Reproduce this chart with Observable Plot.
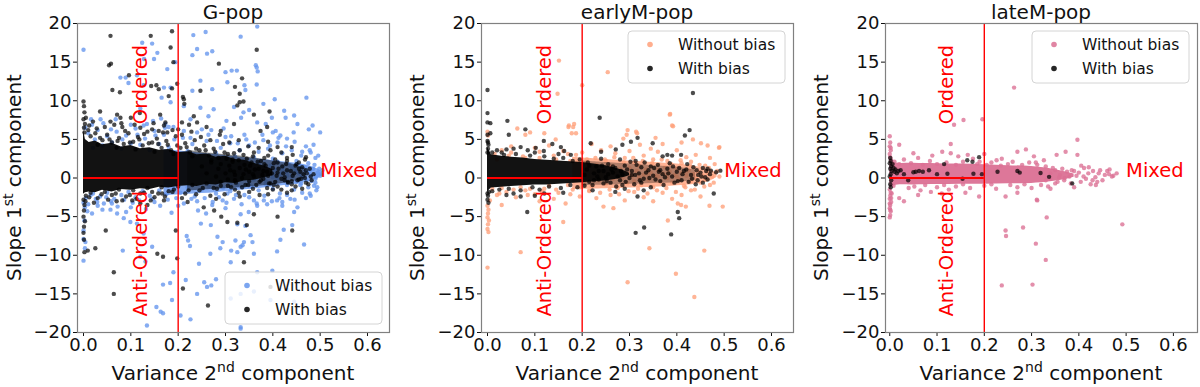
<!DOCTYPE html>
<html><head><meta charset="utf-8">
<script src="https://cdn.jsdelivr.net/npm/d3@7"></script>
<script src="https://cdn.jsdelivr.net/npm/@observablehq/plot@0.6"></script>
<style>
body{margin:0;background:#fff;}
#wrap{display:flex;width:1200px;height:387px;overflow:hidden;}
#wrap svg{display:block;font-family:"DejaVu Sans",sans-serif;}
</style></head><body><div id="wrap"></div>
<script>
// ---------- data (x = variance of 2nd component, y = slope of 1st component) ----------
const panelTitles = ["G-pop", "earlyM-pop", "lateM-pop"];
const seriesNames = ["Without bias", "With bias"];
const xTicks = [0, 0.1, 0.2, 0.3, 0.4, 0.5, 0.6];
const yTicks = [-20, -15, -10, -5, 0, 5, 10, 15, 20];
const varianceThreshold = 0.2;
const verticalLabels = [{text: "Ordered", x: 0.12, y: 12.1}, {text: "Anti-Ordered", x: 0.12, y: -9.8}];
const sideLabels = [{text: "Mixed", x: 0.5, y: 1.0}];

// G-pop, without bias
const gBlue = [
 [0.0,16.6],[0.367,19.6],[0.258,18.9],[0.232,18.5],[0.332,18.3],[0.124,17.5],[0.128,15.4],[0.145,17.4],[0.149,15.4],[0.156,16.2],[0.23,15.9],[0.261,16.1],[0.24,16.7],[0.272,16.4],[0.194,15.0],
 [0.364,14.6],[0.366,14.3],[0.368,13.8],[0.366,12.1],[0.3,13.7],[0.313,13.9],[0.324,13.9],[0.078,13.0],[0.089,13.0],[0.113,13.3],[0.177,14.1],[0.247,12.6],[0.304,12.4],[0.34,12.0],[0.342,11.4],
 [0.127,12.0],[0.17,11.7],[0.184,11.7],[0.23,11.3],[0.272,11.5],[0.471,10.4],[0.404,10.2],[0.184,9.8],[0.212,9.3],[0.247,9.1],[0.275,8.9],[0.318,9.2],[0.338,8.5],[0.35,8.8],[0.38,9.6],
 [0.427,7.8],[0.424,8.7],[0.445,8.1],[0.226,7.6],[0.264,8.0],[0.302,7.4],[0.333,7.8],[0.385,7.0],[0.367,7.2],[0.398,7.8],[0.452,7.0],[0.484,6.8],[0.476,6.3],[0.444,5.9],[0.4,5.9],
 [0.406,6.1],[0.416,5.5],[0.486,4.3],[0.036,7.6],[0.018,6.9],[0.095,12.3],[0.165,10.4],[0.5,5.9],[0.12,9.0],[0.127,6.8],[0.147,7.4],[0.164,7.7],[0.173,7.0],[0.18,6.6],
 [0.0,-7.9],[0.004,-8.3],[0.0,-10.7],[0.134,-19.1],[0.154,-16.7],[0.163,-17.3],[0.168,-17.5],[0.083,-9.4],[0.221,-8.1],[0.225,-8.8],[0.218,-7.5],[0.19,-12.2],[0.183,-13.6],[0.168,-13.8],
 [0.28,-13.1],[0.255,-13.5],[0.27,-13.9],[0.226,-18.3],[0.312,-9.4],[0.294,-8.3],[0.283,-7.6],[0.269,-6.1],[0.248,-5.9],[0.259,-4.6],[0.273,-3.1],[0.294,-2.9],[0.304,-2.0],[0.322,-2.2],[0.336,-1.2],
 [0.127,-7.2],[0.113,-5.9],[0.099,-5.7],[0.085,-5.2],[0.071,-4.6],[0.057,-4.1],[0.043,-3.3],[0.029,-3.1],[0.015,-2.2],[0.145,-8.9],[0.12,-10.2],[0.131,-10.8],
 [0.332,-19.3],[0.399,-12.0],[0.409,-9.5],[0.416,-8.0],[0.423,-6.7],[0.441,-6.1],[0.466,-8.6],[0.353,-7.4],[0.357,-8.3],[0.339,-8.3],[0.336,-8.7],[0.325,-9.6],[0.321,-8.1],[0.332,-4.7],
 [0.349,-4.4],[0.367,-3.6],[0.381,-2.9],[0.388,-3.4],[0.409,-2.9],[0.42,-3.6],[0.437,-2.7],[0.445,-4.4],[0.48,-2.3],[0.487,-1.0],[0.494,-1.2],[0.452,-3.8],[0.342,-6.2],[0.325,-6.0],
 [0.311,-15.6],[0.332,-15.0],[0.244,-11.1],[0.268,-9.8],[0.289,-9.1],[0.311,-10.9],[0.332,-8.9],[0.36,-9.8],[0.395,-15.8],[0.431,-14.5],[0.445,-16.0],[0.367,-12.2],[0.36,-14.7],
 [0.216,-13.2],[0.24,-15.0],[0.261,-14.1],[0.187,-15.8],[0.205,-17.8],[0.332,-19.5],
 [0.01,5.8],[0.03,6.2],[0.05,5.4],[0.07,6.0],[0.09,5.5],[0.11,6.4],[0.13,5.1],[0.15,6.1],[0.17,5.6],[0.19,6.6],[0.21,5.2],[0.23,4.4],[0.24,5.9],[0.26,4.8],[0.27,6.2],[0.29,3.9],
 [0.30,5.3],[0.31,4.5],[0.33,3.6],[0.34,5.6],[0.35,4.2],[0.37,3.4],[0.38,4.9],[0.39,3.8],[0.41,4.6],[0.42,3.2],[0.43,5.1],[0.44,3.6],[0.46,2.9],[0.47,4.1],[0.48,3.3],[0.49,2.6],
 [0.06,4.6],[0.12,4.3],[0.18,4.0],[0.22,3.5],[0.28,3.2],[0.32,2.8],[0.36,2.7],[0.4,2.5],[0.45,2.2],[0.02,3.9],[0.04,4.2],[0.08,3.8],[0.1,4.5],[0.14,3.6],[0.16,4.4],[0.2,3.3],
 [0.004,6.5],[0.016,7.6],[0.024,5.0],[0.042,7.1],[0.058,6.3],[0.068,7.6],[0.082,5.0],[0.1,6.9],[0.114,5.6],[0.134,7.0],[0.152,5.5],[0.172,6.5],[0.192,5.0],[0.212,6.1],[0.226,5.2],
 [0.25,6.3],[0.264,5.6],[0.282,4.8],[0.296,6.4],[0.312,5.4],[0.326,4.5],[0.344,5.0],[0.362,4.6],[0.378,5.6],[0.394,4.2],[0.412,5.2],[0.428,4.1],[0.446,4.7],[0.462,3.4],[0.478,3.6],[0.496,2.9],
 [0.005,-2.6],[0.008,-4.3],[0.02,-2.0],[0.035,-2.4],[0.05,-1.9],[0.065,-2.7],[0.08,-2.2],[0.095,-1.8],[0.11,-2.5],[0.125,-1.7],[0.14,-2.3],[0.16,-1.6],[0.175,-2.1],[0.19,-1.4],
 [0.205,-1.9],[0.22,-1.2],[0.235,-2.4],[0.25,-1.5],[0.265,-1.1],[0.28,-2.0],[0.295,-1.3],[0.31,-1.7],[0.325,-0.9],[0.34,-2.2],[0.355,-1.1],[0.37,-1.6],[0.385,-0.8],[0.4,-1.4],
 [0.415,-2.0],[0.43,-0.9],[0.445,-1.5],[0.46,-0.7],[0.475,-1.2],[0.49,-0.6],[0.03,-3.6],[0.06,-3.3],[0.1,-3.8],[0.15,-3.1],[0.2,-3.6],[0.24,-3.0],[0.3,-3.9],[0.36,-2.9],[0.42,-3.1],[0.47,-2.6],
 [0.003,-3.8],[0.01,-3.4],[0.018,-4.6],[0.026,-2.7],[0.04,-4.1],[0.048,-2.5],[0.058,-3.0],[0.072,-3.7],[0.086,-2.8],[0.09,-4.4],[0.104,-3.2],[0.118,-2.9],[0.132,-4.0],[0.146,-2.7],
 [0.162,-3.6],[0.178,-2.8],[0.186,-4.5],[0.196,-2.6],[0.212,-3.3],[0.228,-2.7],[0.242,-4.2],[0.256,-2.6],[0.272,-3.5],[0.286,-2.5],[0.302,-3.2],[0.318,-2.7],[0.334,-3.4],[0.35,-2.5],
 [0.366,-3.3],[0.382,-2.3],[0.398,-3.0],[0.414,-2.6],[0.43,-2.2],[0.446,-2.8],[0.462,-1.9],[0.478,-2.0],[0.492,-1.6],
 [0.0,-3.2],[0.002,-5.5],[0.0,-6.8],[0.003,-9.1],
 [0.25,0.4],[0.26,1.8],[0.27,-0.3],[0.28,1.1],[0.29,2.3],[0.3,0.2],[0.31,1.5],[0.32,-0.5],[0.33,0.9],[0.34,2.0],[0.35,0.4],[0.355,1.3],[0.36,-0.2],[0.365,0.9],[0.37,1.9],[0.375,0.3],
 [0.38,1.2],[0.385,-0.4],[0.39,0.7],[0.395,1.6],[0.4,0.1],[0.405,1.0],[0.41,2.1],[0.415,0.5],[0.42,1.4],[0.425,-0.2],[0.43,0.8],[0.435,1.7],[0.44,0.2],[0.445,1.1],[0.45,-0.5],[0.455,0.6],
 [0.46,1.5],[0.465,0.0],[0.47,0.9],[0.475,1.9],[0.48,0.4],[0.485,1.2],[0.49,-0.1],[0.495,0.7],[0.5,0.3],[0.505,1.0],[0.38,0.5],[0.39,1.1],[0.4,0.6],[0.41,0.0],[0.42,0.9],[0.43,0.3],
 [0.44,1.4],[0.45,0.8],[0.46,0.4],[0.37,0.6],[0.36,1.4],[0.35,-0.6],[0.34,0.7],[0.33,1.6],[0.32,0.3],[0.31,-0.8],[0.3,1.0],[0.29,0.6],[0.28,-0.6],[0.27,1.4],[0.26,0.8],
 [0.452,1.8],[0.468,1.4],[0.478,0.9],[0.488,1.7],[0.498,1.2],[0.502,0.5],[0.492,0.2],[0.482,-0.4],[0.472,-0.3],[0.458,-0.9]
];
// G-pop, without bias: dense band where dots merge (x, lower y, upper y)
const gBlueBand = [[0.17,-2.3,3.7],[0.22,-2.1,3.4],[0.28,-1.9,3.0],[0.33,-1.6,2.7],[0.38,-1.3,2.4],[0.42,-1.0,2.1],[0.46,-0.7,1.8],[0.49,-0.2,1.3],[0.505,0.3,0.8]];
// G-pop, with bias: saturated core, half-saturated zone (x, lower y, upper y) and individual points
const gBlackCore = [
 [0.0,-2.1,6.2],[0.004,-1.9,5.0],[0.012,-1.8,4.6],[0.025,-1.9,4.8],[0.04,-1.6,4.3],[0.06,-1.8,4.5],[0.08,-1.5,4.0],[0.1,-1.6,4.2],[0.12,-1.4,3.8],[0.14,-1.5,3.9],[0.16,-1.2,3.6],
 [0.18,-1.3,3.7],[0.2,-1.1,3.3],[0.22,-1.0,3.4],[0.24,-1.1,3.0],[0.26,-0.8,3.1],[0.28,-0.9,2.7],[0.3,-0.6,2.8],[0.32,-0.7,2.4],[0.34,-0.4,2.3],[0.36,-0.3,1.9],[0.38,0.0,1.6],[0.4,0.3,1.1]
];
const gBlackHaze = [[0.22,-1.7,3.6],[0.27,-1.5,3.2],[0.32,-1.3,2.9],[0.36,-1.1,2.6],[0.4,-0.9,2.2],[0.44,-0.5,1.8],[0.47,0.0,1.2]];
const gBlack = [
 [0.057,18.4],[0.142,18.4],[0.187,19.0],[0.184,16.9],[0.366,16.6],[0.054,14.6],[0.058,14.8],[0.19,15.0],[0.286,14.8],[0.096,13.3],[0.335,12.9],[0.061,11.4],[0.077,11.1],[0.143,11.9],
 [0.154,12.0],[0.159,11.5],[0.18,10.6],[0.187,11.6],[0.198,12.2],[0.212,10.2],[0.21,10.5],[0.247,11.3],[0.32,11.8],[0.33,10.9],[0.325,9.4],[0.33,9.8],[0.338,9.9],[0.36,8.2],[0.393,8.6],
 [0.374,6.1],[0.39,4.7],[0.41,4.0],[0.44,4.0],[0.47,2.7],[0.035,8.6],[0.071,8.2],[0.078,7.8],[0.057,7.3],[0.119,8.4],[0.162,8.2],[0.173,7.2],[0.145,6.3],[0.159,6.1],[0.177,5.9],
 [0.208,7.2],[0.223,6.9],[0.233,8.0],[0.1,7.8],[0.082,6.6],[0.213,9.6],[0.24,7.2],[0.26,6.6],[0.29,6.1],[0.318,7.0],[0.388,6.6],
 [0.009,-9.4],[0.047,-6.8],[0.025,-9.1],[0.064,-12.2],[0.064,-15.0],[0.156,-9.8],[0.168,-10.2],[0.198,-10.4],[0.195,-6.8],[0.21,-14.3],[0.263,-16.5],[0.254,-3.8],[0.276,-4.2],
 [0.291,-5.0],[0.304,-5.7],[0.325,-5.8],[0.345,-6.1],[0.36,-4.7],[0.41,-5.0],[0.441,-6.8],[0.339,-10.9],[0.395,-14.1],[0.145,-1.8],[0.166,-2.0],[0.191,-1.5],[0.103,-2.9],[0.135,-3.5],
 [0.01,6.2],[0.015,5.4],[0.025,5.8],[0.04,4.9],[0.05,5.6],[0.06,4.6],[0.075,5.2],[0.085,4.4],[0.095,5.8],[0.105,4.7],[0.115,5.3],[0.125,4.2],[0.135,6.0],[0.145,4.6],[0.155,5.1],
 [0.165,3.9],[0.175,4.8],[0.185,3.6],[0.195,5.4],[0.205,3.9],[0.215,4.5],[0.225,3.3],[0.235,4.9],[0.245,3.6],[0.255,4.2],[0.265,2.9],[0.275,3.8],[0.285,2.6],[0.295,4.4],[0.305,3.1],
 [0.315,2.4],[0.33,3.6],[0.345,2.5],[0.36,3.3],[0.375,2.2],[0.39,2.9],[0.41,2.0],[0.43,2.6],[0.45,1.8],[0.03,4.3],[0.07,3.9],[0.11,3.7],[0.15,3.4],[0.19,3.1],[0.23,2.8],[0.27,2.3],
 [0.2,6.3],[0.12,6.5],[0.17,6.8],[0.08,7.1],
 [0.005,7.8],[0.012,6.8],[0.02,7.3],[0.028,6.4],[0.035,5.2],[0.045,6.6],[0.055,5.0],[0.065,6.9],[0.072,4.8],[0.088,6.1],[0.098,4.6],[0.108,6.9],[0.118,5.0],[0.128,5.7],[0.138,4.5],
 [0.148,7.1],[0.158,4.4],[0.168,5.9],[0.178,4.3],[0.188,6.2],[0.198,4.2],[0.208,5.6],[0.218,4.0],[0.228,6.0],[0.238,3.8],[0.248,5.3],[0.258,3.6],[0.268,4.9],[0.278,3.4],[0.288,5.6],
 [0.298,3.3],[0.308,4.6],[0.318,3.2],[0.328,4.9],[0.338,3.0],[0.348,4.1],[0.358,2.8],[0.37,3.9],[0.382,2.6],[0.395,3.6],[0.405,2.4],[0.418,3.3],[0.43,2.2],[0.442,3.0],[0.455,2.0],[0.468,2.4],
 [0.005,-2.3],[0.015,-1.9],[0.03,-2.6],[0.045,-1.8],[0.06,-2.2],[0.075,-1.5],[0.09,-2.4],[0.105,-1.6],[0.12,-2.0],[0.135,-1.3],[0.15,-2.5],[0.165,-1.2],[0.18,-1.7],[0.2,-1.1],
 [0.215,-2.0],[0.23,-0.9],[0.245,-1.6],[0.26,-0.7],[0.275,-1.3],[0.29,-0.5],[0.305,-1.0],[0.32,-0.3],[0.335,-1.2],[0.35,-0.4],[0.365,-0.9],[0.38,-0.1],[0.395,-0.7],[0.41,-1.1],
 [0.425,-0.3],[0.44,-0.8],[0.455,-0.2],[0.47,-0.6],[0.07,-3.0],[0.12,-3.3],[0.17,-2.9],[0.22,-3.1],[0.28,-2.7],[0.33,-2.4],[0.39,-2.1],[0.43,-1.9],
 [0.004,-3.0],[0.012,-2.5],[0.022,-3.2],[0.038,-2.1],[0.052,-2.8],[0.068,-2.0],[0.082,-2.9],[0.098,-2.2],[0.112,-2.7],[0.128,-1.9],[0.142,-2.9],[0.158,-2.0],[0.172,-2.4],[0.188,-1.8],
 [0.208,-2.6],[0.222,-1.6],[0.238,-2.1],[0.252,-1.3],[0.268,-2.3],[0.282,-1.4],[0.298,-2.1],[0.312,-1.2],[0.328,-1.9],[0.342,-0.9],[0.358,-1.4],[0.372,-2.2],[0.388,-1.3],[0.402,-0.9],
 [0.418,-1.5],[0.432,-0.5],[0.448,-1.1],[0.462,-1.4],
 [0.25,1.5],[0.26,0.6],[0.27,2.0],[0.28,0.2],[0.285,1.2],[0.29,1.8],[0.3,0.6],[0.305,-0.2],[0.31,1.0],[0.315,2.1],[0.32,0.4],[0.33,1.3],[0.335,0.0],[0.34,1.7],[0.35,0.8],[0.355,2.0],
 [0.36,0.2],[0.37,1.2],[0.375,-0.3],[0.38,0.9],[0.385,1.6],[0.39,0.3],[0.4,1.3],[0.405,-0.5],[0.41,0.7],[0.42,1.5],[0.425,0.1],[0.43,1.0],[0.44,-0.4],[0.445,0.6],[0.455,1.2],[0.46,-0.1],
 [0.465,0.5],[0.47,1.0],[0.475,-0.8],[0.48,0.2],[0.29,-1.0],[0.32,-1.5],[0.35,-1.8],[0.4,-1.5],[0.44,-1.6],
 [0.302,2.5],[0.308,1.6],[0.318,0.8],[0.322,-0.6],[0.328,2.3],[0.338,0.5],[0.343,1.1],[0.348,-0.9],[0.352,1.6],[0.358,0.5],[0.362,1.1],[0.368,2.1],[0.372,-0.5],[0.378,0.4],[0.382,1.8],
 [0.388,0.8],[0.392,-0.7],[0.398,0.6],[0.402,1.9],[0.408,0.3],[0.412,1.2],[0.418,-0.1],[0.422,0.6],[0.428,1.8],[0.432,-0.6],[0.438,0.9],[0.442,0.3],[0.448,1.6],[0.452,-0.3],[0.458,0.8],
 [0.462,1.4],[0.468,0.0],[0.472,0.6],[0.478,1.2],[0.482,-0.3],[0.486,0.5],
 [0.0,9.9],[0.001,9.3],[0.002,8.5],[0.0,7.6],[0.003,7.0],[0.001,6.5],[0.002,5.9],[0.0,-2.8],[0.002,-3.5],[0.001,-4.2],[0.0,-5.0],[0.003,-5.6],[0.001,-6.3],[0.0,-7.1],[0.002,-9.6],[0.001,-8.0]
];

// earlyM-pop, without bias
const eOrange = [
 [0.151,15.2],[0.254,13.7],[0.2,12.0],[0.148,10.9],[0.183,7.0],[0.172,6.8],[0.386,8.3],[0.39,6.8],[0.296,6.2],[0.314,6.0],[0.0,-11.6],[0.07,-9.6],[0.398,-12.4],[0.296,-13.5],
 [0.342,-9.1],[0.437,-15.4],[0.458,-9.4],[0.16,-5.7],[0.497,-3.7],[0.49,4.0],[0.381,-5.5],[0.402,-3.3],[0.409,-3.5],[0.419,-3.7],
 [0.063,6.4],[0.08,5.6],[0.09,5.9],[0.12,5.8],[0.144,5.0],[0.171,6.6],[0.181,6.6],[0.178,5.8],[0.187,5.8],[0.187,3.0],[0.287,5.1],[0.294,5.6],[0.316,5.8],[0.322,4.3],[0.41,4.6],
 [0.434,5.0],[0.451,4.5],[0.465,4.2],[0.489,3.9],[0.385,8.2],[0.392,6.7],[0.355,5.2],[0.37,4.4],[0.345,3.8],[0.26,4.1],[0.24,3.6],[0.22,4.4],[0.27,3.2],[0.3,3.5],[0.33,2.9],
 [0.36,3.4],[0.4,3.6],[0.42,2.7],[0.44,3.0],[0.47,2.6],[0.03,3.6],[0.05,4.1],[0.1,3.9],[0.13,4.2],[0.16,3.5],[0.2,3.3],[0.21,2.4],[0.25,2.2],[0.29,2.6],[0.31,2.0],[0.35,2.4],
 [0.38,2.2],[0.41,1.9],[0.43,2.1],[0.46,1.6],[0.48,1.8],
 [0.2,0.8],[0.205,-0.6],[0.21,1.4],[0.215,0.2],[0.22,-1.1],[0.225,0.9],[0.23,1.7],[0.235,-0.3],[0.24,0.5],[0.245,1.2],[0.25,-0.8],[0.255,0.3],[0.26,1.5],[0.265,-0.1],[0.27,0.7],
 [0.275,-1.3],[0.28,1.1],[0.285,0.0],[0.29,0.6],[0.295,-0.7],[0.3,1.3],[0.305,0.2],[0.31,-0.4],[0.315,0.9],[0.32,1.6],[0.325,-0.9],[0.33,0.4],[0.335,1.1],[0.34,-0.2],[0.345,0.7],
 [0.35,-1.2],[0.355,0.3],[0.36,1.0],[0.365,-0.5],[0.37,0.6],[0.375,1.4],[0.38,0.0],[0.385,0.8],[0.39,-0.6],[0.395,0.4],[0.4,1.2],[0.405,-0.2],[0.41,0.6],[0.415,-1.0],[0.42,0.3],
 [0.425,1.0],[0.43,-0.4],[0.435,0.5],[0.44,0.0],[0.445,0.8],[0.45,-0.6],[0.455,0.3],[0.46,-0.2],[0.465,0.6],[0.47,-0.9],[0.475,0.2],[0.42,0.7],[0.4,0.2],[0.38,0.5],[0.36,0.2],
 [0.34,0.4],[0.32,0.1],[0.3,0.5],[0.28,0.3],[0.26,0.6],[0.24,0.1],
 [0.205,2.0],[0.215,-1.6],[0.228,2.6],[0.238,-1.9],[0.248,2.4],[0.258,-1.5],[0.268,2.7],[0.278,-2.1],[0.288,2.0],[0.298,-1.7],[0.308,2.6],[0.318,-1.4],[0.328,2.2],[0.338,-2.0],
 [0.348,1.9],[0.358,-1.6],[0.368,2.4],[0.378,-1.3],[0.388,1.8],[0.398,-1.8],[0.408,2.3],[0.418,-1.2],[0.428,1.6],[0.438,-1.5],[0.448,1.7],[0.458,-1.1],[0.468,1.3],[0.478,-0.6],
 [0.485,0.9],[0.49,0.2],[0.02,2.4],[0.05,3.3],[0.08,2.6],[0.11,3.4],[0.14,2.9],[0.17,3.1],[0.19,2.1],[0.025,-2.0],[0.055,-1.5],[0.085,-2.2],[0.115,-1.7],[0.145,-1.5],[0.175,-2.1],[0.195,-1.2],
 [0.005,-2.9],[0.02,-2.2],[0.04,-1.8],[0.06,-2.5],[0.08,-1.6],[0.1,-2.1],[0.12,-1.4],[0.14,-2.7],[0.165,-3.3],[0.18,-1.5],[0.195,-2.4],[0.215,-1.7],[0.245,-3.7],[0.266,-3.9],
 [0.23,-2.6],[0.26,-2.2],[0.29,-2.9],[0.31,-1.8],[0.33,-2.5],[0.35,-3.0],[0.37,-1.9],[0.39,-2.7],[0.41,-2.2],[0.43,-1.6],[0.45,-2.4],[0.469,-3.6],[0.03,-3.5],[0.11,-3.0],[0.15,-1.9],
 [0.01,-1.4],[0.03,-1.3],[0.07,-1.2],[0.09,-1.4],[0.13,-1.0],[0.17,-0.9],[0.015,3.1],[0.045,2.9],[0.075,2.8],[0.11,2.6],[0.145,2.4],[0.175,2.2],
 [0.0,-3.6],[0.002,-4.1],[0.001,-4.6],[0.0,-5.1],[0.003,-5.5],[0.001,-6.0],[0.0,-6.6],[0.002,-7.0],[0.001,5.5],[0.0,6.0]
];
// earlyM-pop, without bias: dense band where dots merge
const eOrangeBand = [[0.18,-1.5,2.7],[0.25,-1.4,2.4],[0.3,-1.3,2.2],[0.35,-1.2,2.0],[0.4,-1.0,1.8],[0.44,-0.8,1.5],[0.47,-0.4,1.1],[0.485,0.1,0.6]];
// earlyM-pop, with bias: saturated core, half-saturated zone and points
const eBlackCore = [[0.0,-1.8,4.0],[0.008,-1.3,3.0],[0.03,-1.2,2.8],[0.05,-1.1,2.7],[0.075,-1.0,2.6],[0.1,-0.9,2.4],[0.125,-0.9,2.3],[0.15,-0.8,2.2],[0.175,-0.7,2.1],[0.2,-0.6,2.0],[0.225,-0.5,1.8],[0.25,-0.4,1.6],[0.27,-0.2,1.3],[0.29,0.1,0.9],[0.3,0.3,0.6]];
const eBlackHaze = [[0.2,-1.0,2.2],[0.25,-0.9,2.0],[0.3,-0.8,1.8],[0.35,-0.7,1.6],[0.4,-0.6,1.4],[0.44,-0.3,1.0]];
const eBlack = [
 [0.0,11.4],[0.0,8.4],[0.0,7.2],[0.006,7.1],[0.042,7.4],[0.0,5.6],[0.006,5.8],[0.045,5.6],[0.08,6.3],[0.119,4.8],[0.137,4.4],[0.155,4.0],[0.162,3.5],[0.119,3.5],[0.102,3.9],
 [0.085,3.6],[0.07,4.0],[0.055,3.8],[0.04,3.7],[0.03,3.3],[0.176,3.0],[0.218,4.5],[0.24,3.4],[0.237,7.8],[0.271,3.7],[0.285,4.3],[0.303,4.7],[0.313,2.2],[0.222,-1.6],[0.27,-1.8],
 [0.07,-2.4],[0.055,-2.0],[0.04,-2.2],[0.084,-4.4],[0.313,-7.1],[0.331,-6.4],[0.434,11.0],[0.417,5.5],[0.427,6.2],[0.317,5.2],[0.349,4.5],[0.409,3.0],[0.37,2.8],[0.38,3.0],
 [0.39,2.9],[0.472,0.95],[0.483,0.75],[0.492,0.95],[0.465,-0.2],[0.478,-2.0],[0.402,-4.4],[0.405,-5.2],[0.388,-7.3],[0.317,-2.4],[0.345,-1.2],[0.444,-0.3],
 [0.205,0.4],[0.21,1.1],[0.215,-0.5],[0.225,0.6],[0.23,1.5],[0.235,-0.2],[0.245,0.9],[0.25,0.1],[0.255,1.8],[0.26,-0.6],[0.265,0.7],[0.27,1.3],[0.28,-0.3],[0.285,0.5],[0.29,1.6],
 [0.3,0.0],[0.305,0.9],[0.31,-0.8],[0.32,0.6],[0.325,1.4],[0.33,-0.1],[0.34,1.0],[0.35,0.3],[0.36,1.7],[0.365,-0.4],[0.37,0.5],[0.38,1.2],[0.39,0.2],[0.4,0.8],[0.41,-0.3],[0.42,1.1],
 [0.43,0.4],[0.44,-0.8],[0.45,0.7],[0.455,1.3],[0.46,0.1],
 [0.212,2.0],[0.222,-0.9],[0.232,0.2],[0.242,1.6],[0.252,-0.4],[0.262,1.1],[0.272,-1.1],[0.282,0.9],[0.292,-0.5],[0.302,2.1],[0.312,0.4],[0.322,-0.3],[0.332,2.0],[0.342,0.0],
 [0.352,1.3],[0.362,0.8],[0.372,-0.9],[0.382,0.6],[0.392,1.5],[0.402,-0.4],[0.412,0.5],[0.422,1.8],[0.432,-0.1],[0.442,1.0],[0.452,0.2],[0.462,0.9],[0.205,-1.0],[0.24,2.5],[0.28,2.4],
 [0.33,-1.6],[0.29,-1.4],
 [0.215,1.6],[0.225,-0.3],[0.235,0.9],[0.245,-0.7],[0.255,0.5],[0.265,1.5],[0.275,0.2],[0.285,-0.9],[0.295,1.1],[0.305,0.4],[0.315,1.7],[0.325,-0.6],[0.335,0.7],[0.345,1.5],
 [0.355,-0.2],[0.365,1.0],[0.375,0.1],[0.385,1.9],[0.395,-0.6],[0.405,1.3],[0.415,0.9],[0.425,-0.5],[0.435,1.4],[0.445,0.4],[0.455,-0.6],[0.465,1.2],[0.47,0.5],
 [0.01,3.3],[0.02,3.6],[0.035,3.0],[0.06,3.1],[0.09,2.9],[0.12,2.8],[0.14,2.5],[0.16,2.6],[0.18,2.2],[0.195,2.4],[0.1,3.3],[0.15,3.1],
 [0.01,-1.7],[0.025,-1.5],[0.045,-1.4],[0.07,-1.6],[0.095,-1.2],[0.11,-1.5],[0.13,-1.1],[0.155,-1.3],[0.175,-0.9],[0.19,-1.2],[0.12,-2.0],[0.16,-1.9],[0.1,-2.3],
 [0.0,4.8],[0.002,4.3],[0.001,3.8],[0.0,3.3],[0.003,-1.8],[0.001,-2.3],[0.0,-2.8],[0.002,-3.2],[0.001,4.6],[0.0,-2.0]
];

// lateM-pop, without bias: dense band (x, lower y, upper y) and individual points
const lPinkCore = [[0.0,-1.5,2.6],[0.01,-1.0,2.0],[0.05,-0.9,1.9],[0.1,-0.85,1.85],[0.15,-0.8,1.8],[0.2,-0.8,1.7],[0.25,-0.75,1.6],[0.3,-0.7,1.5],[0.34,-0.5,1.2],[0.37,-0.2,0.8],[0.39,0.1,0.5]];
const lPink = [
 [0.263,11.7],[0.196,7.6],[0.156,7.5],[0.136,6.9],[0.397,4.95],[0.288,3.7],[0.492,-6.0],[0.332,-5.1],[0.282,-6.4],[0.245,-6.8],[0.246,-7.5],[0.309,-8.5],[0.33,-10.6],[0.237,-13.9],
 [0.302,-13.8],[0.311,-2.8],
 [0.0,5.4],[0.001,4.6],[0.0,4.1],[0.002,3.6],[0.0,3.1],[0.001,2.7],[0.003,2.3],[0.0,-1.5],[0.002,-1.9],[0.001,-2.3],[0.0,-2.7],[0.003,-3.1],[0.001,-3.5],[0.0,-3.9],[0.002,-4.3],
 [0.001,-4.8],[0.0,-5.1],[0.004,-2.0],[0.004,2.0],[0.002,3.9],[0.001,-4.1],[0.003,-2.6],[0.0,-3.3],
 [0.01,2.1],[0.02,1.8],[0.03,2.4],[0.045,1.9],[0.06,2.6],[0.07,1.7],[0.085,2.2],[0.1,1.8],[0.111,3.4],[0.12,2.0],[0.129,3.2],[0.14,1.7],[0.145,2.8],[0.155,2.1],[0.165,3.0],
 [0.176,2.5],[0.185,1.8],[0.19,2.1],[0.205,1.7],[0.215,2.0],[0.226,2.3],[0.237,2.5],[0.25,1.8],[0.26,2.1],[0.27,3.4],[0.28,1.7],[0.295,2.0],[0.305,2.8],[0.312,1.7],[0.326,2.3],
 [0.309,2.0],[0.33,1.5],[0.353,3.0],[0.372,3.4],[0.397,3.0],[0.02,4.3],[0.129,4.4],[0.05,3.2],[0.09,2.9],[0.2,3.1],[0.235,1.6],
 [0.008,-1.0],[0.02,-2.6],[0.03,-3.0],[0.04,-1.3],[0.052,-1.1],[0.065,-1.6],[0.075,-0.9],[0.087,-1.8],[0.1,-1.2],[0.115,-0.9],[0.125,-1.5],[0.14,-1.1],[0.155,-0.8],[0.17,-1.3],
 [0.189,-2.4],[0.2,-1.0],[0.215,-0.8],[0.225,-1.4],[0.245,-2.4],[0.255,-0.9],[0.27,-1.2],[0.285,-0.8],[0.3,-1.3],[0.312,-2.9],[0.32,-0.9],[0.335,-1.1],[0.34,-1.4],[0.35,-0.7],
 [0.06,-2.2],[0.11,-2.0],[0.16,-1.9],[0.27,-1.9],
 [0.411,1.3],[0.421,1.4],[0.442,0.6],[0.464,0.5],[0.473,0.3],[0.415,-0.1],[0.429,-0.3],[0.439,-0.5],[0.45,-0.3],[0.425,-0.8],[0.436,-0.9],[0.404,-0.5],[0.39,-1.2],[0.383,-0.7],
 [0.369,-0.3],[0.358,0.1],[0.34,-0.1],[0.33,-0.3],[0.34,0.6],[0.35,1.0],[0.36,0.4],[0.365,1.2],[0.375,0.8],[0.38,0.2],[0.39,0.9],[0.395,0.3],[0.4,0.7],[0.405,1.6],[0.41,0.2],
 [0.42,0.6],[0.43,0.9],[0.435,0.1],[0.445,1.0],[0.455,0.4],[0.46,0.9],[0.47,0.2],[0.48,0.6],[0.465,1.1],[0.345,1.3],[0.355,-0.5],[0.37,0.0],[0.385,1.0]
];
// lateM-pop, with bias
const lBlack = [
 [0.001,2.6],[0.002,2.2],[0.0,1.9],[0.003,1.5],[0.001,1.2],[0.004,0.9],[0.002,0.5],[0.0,0.2],[0.003,-0.3],[0.001,-0.8],[0.002,-1.2],[0.006,1.8],[0.008,1.3],[0.01,0.8],[0.012,1.1],
 [0.015,0.6],[0.018,0.9],[0.023,1.0],[0.03,0.5],[0.039,-0.3],[0.05,0.75],[0.055,0.8],[0.062,0.9],[0.07,0.8],[0.083,1.0],[0.1,0.5],[0.115,1.8],[0.122,0.55],[0.154,-0.1],
 [0.164,2.3],[0.175,2.1],[0.189,2.7],[0.177,0.55],[0.195,0.5],[0.228,0.8],[0.27,0.9],[0.275,0.7],[0.319,0.65],[0.337,0.15],[0.386,-0.7]
];

// ---------- drawing ----------
const panels = [
  {title: panelTitles[0], free: gBlue, bias: gBlack, freeBand: gBlueBand, freeCore: null, biasHaze: gBlackHaze, hazeOpacity: 0.45, biasCore: gBlackCore, color: "#6495ed", ml: 77, mr: 11, xd: [-0.0127, 0.6465], ylab: 21, legend: {x: 225, y: 272}},
  {title: panelTitles[1], free: eOrange, bias: eBlack, freeBand: eOrangeBand, freeCore: null, biasHaze: eBlackHaze, hazeOpacity: 0.3, biasCore: eBlackCore, color: "#ffa07a", ml: 81, mr: 7, xd: [-0.0127, 0.6465], ylab: 24, legend: {x: 228, y: 31}},
  {title: panelTitles[2], free: lPink, bias: lBlack, freeBand: null, freeCore: lPinkCore, biasHaze: null, biasCore: null, color: "#db7093", ml: 85, mr: 3, xd: [-0.009, 0.651], ylab: 28, legend: {x: 232, y: 31}}
];

const W = 400, H = 387, MT = 23, MB = 55;
const wrap = document.getElementById("wrap");
const X = d => d[0], Y = d => d[1], Y1 = d => d[1], Y2 = d => d[2];

for (const p of panels) {
  const marks = [];
  if (p.freeBand) marks.push(Plot.areaY(p.freeBand, {x: X, y1: Y1, y2: Y2, fill: p.color, fillOpacity: 0.8, curve: "catmull-rom", clip: true}));
  marks.push(Plot.dot(p.free, {x: X, y: Y, r: 2.2, fill: p.color, fillOpacity: 0.78, clip: true}));
  if (p.freeCore) marks.push(Plot.areaY(p.freeCore, {x: X, y1: Y1, y2: Y2, fill: p.color, fillOpacity: 0.95, curve: "catmull-rom", clip: true}));
  if (p.biasHaze) marks.push(Plot.areaY(p.biasHaze, {x: X, y1: Y1, y2: Y2, fill: "#000", fillOpacity: p.hazeOpacity, curve: "catmull-rom", clip: true}));
  if (p.biasCore) marks.push(Plot.areaY(p.biasCore, {x: X, y1: Y1, y2: Y2, fill: "#050505", fillOpacity: 0.95, curve: "linear", clip: true}));
  marks.push(
    Plot.dot(p.bias, {x: X, y: Y, r: 2.2, fill: "#000", fillOpacity: 0.7, clip: true}),
    Plot.ruleX([varianceThreshold], {x: d => d, stroke: "red", strokeWidth: 1.4}),
    Plot.ruleY([{y: 0, x1: 0, x2: varianceThreshold}], {y: "y", x1: "x1", x2: "x2", stroke: "red", strokeWidth: 1.8}),
    Plot.text(verticalLabels, {x: "x", y: "y", text: "text", rotate: -90, fill: "red", fontSize: 19.5, textAnchor: "middle", lineAnchor: "middle"}),
    Plot.text(sideLabels, {x: "x", y: "y", text: "text", fill: "red", fontSize: 19.5, textAnchor: "start", lineAnchor: "middle"}),
    Plot.axisY({ticks: yTicks, tickSize: 4, tickPadding: 2, fontSize: 18, label: null, color: "#111"}),
    Plot.axisX({ticks: xTicks, tickFormat: d3.format(".1f"), tickSize: 4, tickPadding: 2, fontSize: 18, label: null, color: "#111"}),
    Plot.frame({stroke: "#808080", strokeWidth: 1.2})
  );
  const svg = Plot.plot({
    width: W, height: H,
    marginLeft: p.ml, marginRight: p.mr, marginTop: MT, marginBottom: MB,
    x: {domain: p.xd},
    y: {domain: [-20, 20]},
    style: {fontFamily: "DejaVu Sans, sans-serif", background: "white", overflow: "visible"},
    marks
  });
  const s = d3.select(svg);
  const cx = (p.ml + (W - p.mr)) / 2;
  const cy = (MT + (H - MB)) / 2;
  s.append("text").attr("x", cx).attr("y", 19).attr("text-anchor", "middle").attr("font-size", 20).attr("fill", "#111").text(p.title);
  const xl = s.append("text").attr("x", cx).attr("y", 380).attr("text-anchor", "middle").attr("font-size", 20).attr("fill", "#111");
  xl.append("tspan").text("Variance 2");
  xl.append("tspan").attr("font-size", 14).attr("dy", -8).text("nd");
  xl.append("tspan").attr("dy", 8).text(" component");
  const yl = s.append("text").attr("transform", `translate(${p.ylab},${cy}) rotate(-90)`).attr("text-anchor", "middle").attr("font-size", 20).attr("fill", "#111");
  yl.append("tspan").text("Slope 1");
  yl.append("tspan").attr("font-size", 14).attr("dy", -8).text("st");
  yl.append("tspan").attr("dy", 8).text(" component");
  const lg = s.append("g").attr("transform", `translate(${p.legend.x},${p.legend.y})`);
  lg.append("rect").attr("x", 0).attr("y", 0).attr("width", 157).attr("height", 52).attr("rx", 4)
    .attr("fill", "white").attr("fill-opacity", 0.82).attr("stroke", "#d4d4d4");
  const items = [{name: seriesNames[0], color: p.color}, {name: seriesNames[1], color: "#000"}];
  items.forEach((it, i) => {
    lg.append("circle").attr("cx", 22).attr("cy", 13.5 + i * 24).attr("r", 2.8).attr("fill", it.color).attr("fill-opacity", 0.85);
    lg.append("text").attr("x", 50).attr("y", 19 + i * 24).attr("text-anchor", "start").attr("font-size", 15.5).attr("fill", "#111").text(it.name);
  });
  wrap.appendChild(svg);
}
</script>
</body></html>
